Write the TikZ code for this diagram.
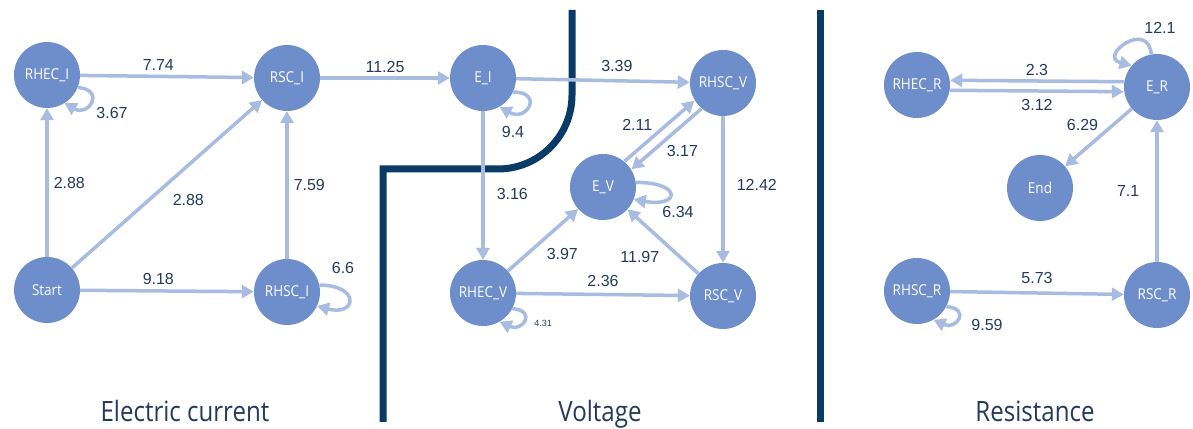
\documentclass[tikz,border=0pt]{standalone}
\usepackage{fontspec}
\setmainfont{Liberation Sans}
\newfontfamily\condfont[FakeStretch=0.9]{Open Sans}
\newfontfamily\titlefont[FakeStretch=0.86]{Open Sans}
\usepackage{xcolor}
\usetikzlibrary{arrows.meta}
\usetikzlibrary{positioning}

\definecolor{stateblue}{HTML}{6E8ECB}
\definecolor{edgeblue}{HTML}{A8BBE0}
\definecolor{labelnavy}{HTML}{243A5C}
\definecolor{barnavy}{HTML}{0A3A66}

\begin{document}
\begin{tikzpicture}[
  x=1pt, y=1pt,
  state/.style={circle,fill=stateblue,minimum size=66pt,inner sep=0pt,
    text=white,font=\condfont\fontsize{15}{15}\selectfont},
  edge/.style={draw=edgeblue,line width=3.5pt,-{Triangle[length=12pt,width=13pt]}},
  lbl/.style={font=\fontsize{16}{16}\selectfont,text=labelnavy,inner sep=2pt},
  tiny/.style={font=\fontsize{9}{9}\selectfont,text=labelnavy,inner sep=1pt},
  title/.style={font=\titlefont\fontsize{28}{28}\selectfont,text=labelnavy,anchor=base},
  bar/.style={draw=barnavy,line width=7pt}]
\useasboundingbox (0,0) rectangle (1193,428);

% separators
\draw[bar] (572,418) -- (572,333) arc[start angle=0,end angle=-90,radius=74]
  -- (383,259) -- (383,6);
\draw[bar] (820,418) -- (820,6);

% electric current
\node[state] (rhecI) at (47,353) {RHEC\_I};
\node[state] (rscI) at (287,350) {RSC\_I};
\node[state] (start) at (47,138) {Start};
\node[state] (rhscI) at (287,136) {RHSC\_I};

% voltage
\node[state] (eI) at (483,350) {E\_I};
\node[state] (rhscV) at (723,345) {RHSC\_V};
\node[state] (eV) at (603,241) {E\_V};
\node[state] (rhecV) at (483,135) {RHEC\_V};
\node[state] (rscV) at (723,132) {RSC\_V};

% resistance
\node[state] (rhecR) at (917,343) {RHEC\_R};
\node[state] (eR) at (1157,341) {E\_R};
\node[state] (endR) at (1040,240) {End};
\node[state] (rhscR) at (917,137) {RHSC\_R};
\node[state] (rscR) at (1157,133) {RSC\_R};

\draw[edge] (rhecI) -- node[lbl,above=2pt,pos=.45] (w774) {7.74} (rscI);
\draw[edge] (rscI) -- node[lbl,above=2pt] (w1125) {11.25} (eI);
\draw[edge] (start) -- node[lbl,right=3pt] (w288a) {2.88} (rhecI);
\draw[edge] (start) -- node[lbl,below right=7pt and 2pt] (w288b) {2.88} (rscI);
\draw[edge] (start) -- node[lbl,above=3pt,pos=.45] (w918) {9.18} (rhscI);
\draw[edge] (rhscI) -- node[lbl,right=3pt] (w759) {7.59} (rscI);
\draw[edge] (rhecI.-22) to[out=-5,in=-30,looseness=3.5] (rhecI.-58);
\draw[edge] (rhscI.12) to[out=0,in=-15,looseness=5] (rhscI.-25);
\node[lbl] (w367) at (112,315) {3.67};
\node[lbl] (w66) at (343,160) {6.6};

\draw[edge] (eI) -- node[lbl,above=5pt,pos=.58] (w339) {3.39} (rhscV);
\draw[edge] (eI) -- node[lbl,right=10pt,pos=.56] (w316) {3.16} (rhecV);
\draw[edge] (rhecV) -- node[lbl,above=4pt] (w236) {2.36} (rscV);
\draw[edge] (rhecV) -- node[lbl,below right=5pt and 0pt] (w397) {3.97} (eV);
\draw[edge] (rscV) -- node[lbl,below left=6pt and 0pt] (w1197) {11.97} (eV);
\draw[edge] (rhscV) -- node[lbl,right=10pt,pos=.47] (w1242) {12.42} (rscV);
\draw[edge,transform canvas={xshift=-3.5pt,yshift=4pt}] (eV) --
  node[lbl,above left,pos=.45] (w211) {2.11} (rhscV);
\draw[edge,transform canvas={xshift=3.5pt,yshift=-4pt}] (rhscV) --
  node[lbl,below right,pos=.55] (w317) {3.17} (eV);
\draw[edge] (eI.-25) to[out=0,in=-30,looseness=4] (eI.-60);
\draw[edge] (eV.8) to[out=0,in=-10,looseness=7] (eV.-22);
\draw[edge] (rhecV.-28) to[out=-5,in=-25,looseness=3.5] (rhecV.-60);
\node[lbl] (w94) at (513,296) {9.4};
\node[lbl] (w634) at (678,216) {6.34};
\node[tiny] (w431) at (543,105) {4.31};

\draw[edge,transform canvas={yshift=5pt}] (eR) -- node[lbl,above=2pt] (w23) {2.3} (rhecR);
\draw[edge,transform canvas={yshift=-5pt}] (rhecR) -- node[lbl,below=5pt] (w312) {3.12} (eR);
\draw[edge] (eR) -- node[lbl,above left,pos=.45] (w629) {6.29} (endR);
\draw[edge] (rscR) -- node[lbl,left=14pt] (w71) {7.1} (eR);
\draw[edge] (rhscR) -- node[lbl,above=6pt] (w573) {5.73} (rscR);
\draw[edge] (eR.100) to[out=95,in=165,looseness=4] (eR.140);
\draw[edge] (rhscR.-28) to[out=-5,in=-25,looseness=3.5] (rhscR.-60);
\node[lbl] (w121) at (1160,400) {12.1};
\node[lbl] (w959) at (987,103) {9.59};

% titles
\node[title] (tCurrent) at (185,6) {Electric current};
\node[title] (tVoltage) at (600,6) {Voltage};
\node[title] (tResist) at (1035,6) {Resistance};
\end{tikzpicture}
\end{document}
